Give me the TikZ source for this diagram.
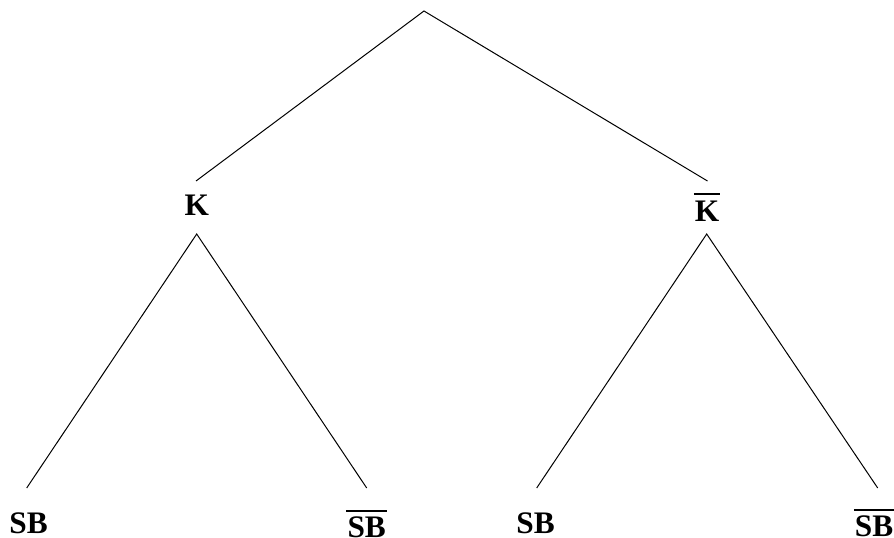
\documentclass[tikz,border=0pt]{standalone}
\usepackage{fontspec}
\setmainfont{Liberation Serif}
\newcommand\ovbar[1]{\vbox{\hrule height 1.4pt\kern 4.3pt\hbox{\kern0.8pt#1\kern0.8pt}}}
\begin{document}
\begin{tikzpicture}[x=0.75pt,y=-0.75pt,
  lbl/.style={font=\fontsize{23.5}{28}\selectfont\bfseries, inner sep=0pt, anchor=base},
  edge/.style={line width=0.75pt, draw=black}]
\useasboundingbox (0,0) rectangle (894,538);
% labels
\node[lbl] (K) at (196.7,216) {K};
\node[lbl] (Kb) at (707,221.5) {\ovbar{K}};
\node[lbl] (SB1) at (28.5,534) {SB};
\node[lbl] (SB2) at (366.7,538) {\ovbar{SB}};
\node[lbl] (SB3) at (535.5,534) {SB};
\node[lbl] (SB4) at (874,537) {\ovbar{SB}};
% connector ends
\coordinate (root) at (424,11);
\coordinate (Kin) at (196,181);
\coordinate (Kout) at (196.7,234);
\coordinate (Kbin) at (707.5,181);
\coordinate (Kbout) at (706.7,234);
\coordinate (SB1in) at (26.7,488);
\coordinate (SB2in) at (366.7,488);
\coordinate (SB3in) at (536.7,488);
\coordinate (SB4in) at (877.7,488);
\draw[edge] (Kin) -- (root) -- (Kbin);
\draw[edge] (SB1in) -- (Kout) -- (SB2in);
\draw[edge] (SB3in) -- (Kbout) -- (SB4in);
\end{tikzpicture}
\end{document}
